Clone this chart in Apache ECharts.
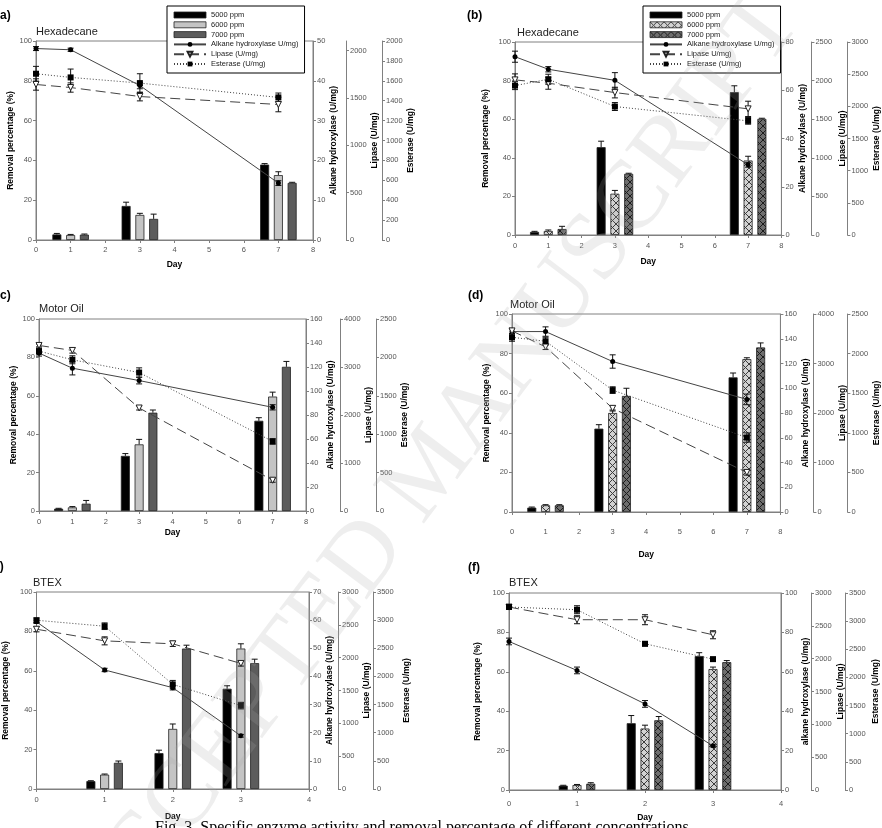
<!DOCTYPE html>
<html lang="en">
<head>
<meta charset="utf-8">
<title>Enzyme activity and removal percentage</title>
<script src="https://cdn.jsdelivr.net/npm/echarts@6/dist/echarts.min.js"></script>
<style>
    html, body { margin: 0; padding: 0; background: #fff; }
    #main { width: 882px; height: 828px; }
</style>
</head>
<body>
<div id="main"></div>
<script>
// sampling days
const daysAD = [0, 1, 3, 7];
const daysEF = [0, 1, 2, 3];
const barDaysAD = [1, 3, 7];
const barDaysEF = [1, 2, 3];
const concNames = ['5000 ppm', '6000 ppm', '7000 ppm'];

// (a) Hexadecane
const aBar = [[2.8, 17.1, 37.9], [2.5, 12.6, 32.6], [2.7, 10.6, 28.7]];
const aBarErr = [[0.5, 1.9, 0.5], [0.3, 0.8, 1.7], [0.3, 2.4, 0.3]];
const aAlk = [48.1, 47.8, 38.8, 14.3], aAlkErr = [0.5, 0.4, 0.8, 0.6];
const aLip = [1641, 1609, 1514, 1430], aLipErr = [60, 49, 46, 77];
const aEst = [1671, 1634, 1577, 1433], aEstErr = [74, 84, 94, 44];

// (b) Hexadecane
const bBar = [[1.6, 45.5, 74.0], [2.1, 21.4, 38.6], [3.1, 31.7, 60.2]];
const bBarErr = [[0.3, 3.1, 3.3], [0.5, 1.7, 2.2], [1.4, 0.3, 0.3]];
const bAlk = [73.9, 68.7, 64.1, 29.1], bAlkErr = [2.3, 1.1, 3.2, 1.0];
const bLip = [2009, 1966, 1845, 1634], bLipErr = [78, 78, 69, 99];
const bEst = [2322, 2421, 1997, 1774], bEstErr = [62, 78, 62, 52];

// (c) Motor Oil
const cBar = [[1.2, 28.7, 47.0], [1.9, 34.7, 59.6], [3.8, 51.2, 75.1]];
const cBarErr = [[0.2, 1.2, 1.6], [0.4, 2.6, 2.3], [1.7, 1.4, 2.8]];
const cAlk = [131.6, 119.0, 108.7, 86.4], cAlkErr = [2.5, 5.6, 2.8, 2.2];
const cLip = [3449, 3345, 2146, 641], cLipErr = [30, 56, 42, 42];
const cEst = [2082, 1969, 1803, 906], cEstErr = [40, 52, 61, 35];

// (d) Motor Oil
const dBar = [[2.2, 42.1, 68.0], [3.4, 50.0, 77.2], [3.4, 58.6, 83.1]];
const dBarErr = [[0.3, 2.0, 2.2], [0.3, 1.5, 0.7], [0.3, 3.9, 2.3]];
const dAlk = [145.8, 145.8, 121.6, 91.0], dAlkErr = [2.0, 3.8, 5.4, 4.3];
const dLip = [3658, 3336, 2094, 799], dLipErr = [54, 54, 54, 54];
const dEst = [2206, 2156, 1539, 940], dEstErr = [50, 50, 42, 59];

// (e) BTEX
const eBar = [[4.0, 18.2, 50.9], [7.3, 30.5, 71.3], [13.3, 71.3, 63.9]];
const eBarErr = [[0.2, 1.5, 1.5], [0.3, 2.5, 2.4], [0.9, 1.7, 2.0]];
const eAlk = [59.4, 42.3, 36.0, 18.9], eAlkErr = [0.6, 0.6, 0.8, 0.5];
const eLip = [2433, 2256, 2211, 1912], eLipErr = [40, 61, 40, 40];
const eEst = [2998, 2892, 1859, 1481], eEstErr = [40, 59, 70, 59];

// (f) BTEX
const fBar = [[2.2, 33.9, 68.0], [2.5, 31.2, 61.4], [3.2, 35.4, 64.9]];
const fBarErr = [[0.2, 3.9, 1.7], [0.3, 1.7, 1.0], [0.5, 1.9, 0.8]];
const fAlk = [75.4, 60.7, 43.7, 22.4], fAlkErr = [1.7, 1.7, 1.7, 0.5];
const fLip = [2786, 2593, 2593, 2364], fLipErr = [30, 61, 76, 61];
const fEst = [3251, 3203, 2598, 2325], fEstErr = [30, 71, 40, 30];

const FONT = '"Liberation Sans", Arial, sans-serif';
const AXC = '#808080';
const BAR_W = 9, BAR_GAP = 0.53, BAR_STEP = BAR_W * (1 + BAR_GAP), CAP = 3;

function hatch(bg, fg) {
    const c = document.createElement('canvas');
    c.width = 7; c.height = 7;
    const g = c.getContext('2d');
    g.fillStyle = bg; g.fillRect(0, 0, 7, 7);
    g.strokeStyle = fg; g.lineWidth = 1;
    g.beginPath();
    g.moveTo(0, 0); g.lineTo(7, 7);
    g.moveTo(7, 0); g.lineTo(0, 7);
    g.stroke();
    return { image: c, repeat: 'repeat' };
}
const plainFills = ['#000', '#c4c4c4', '#5c5c5c'];
const hatchFills = ['#000', hatch('#d2d2d2', '#3c3c3c'), hatch('#6e6e6e', '#1c1c1c')];

const panels = [
    { title: 'Hexadecane', tag: '(a)', tagX: -4, tagY: 16, titleXY: [36, 26],
      days: daysAD, barDays: barDaysAD, bar: aBar, barErr: aBarErr,
      alk: aAlk, alkErr: aAlkErr, lip: aLip, lipErr: aLipErr, est: aEst, estErr: aEstErr,
      grid: [36, 41, 277, 199], xMax: 8, alkAx: [50, 10], lipAx: [2100, 500], lipLabels: [0, 500, 1000, 1500, 2000],
      estAx: [2000, 200], off: [33, 69], gaps: [18.5, 15.5, 22.5, 24.5], xm: 6, dg: 20.5,
      alkName: 'Alkane hydroxylase (U/mg)', fills: plainFills,
      names: ['Alkane hydroxylase U/mg)', 'Lipase (U/mg)', 'Esterase (U/mg)'] },
    { title: 'Hexadecane', tag: '(b)', tagX: 467, tagY: 16, titleXY: [517, 27],
      days: daysAD, barDays: barDaysAD, bar: bBar, barErr: bBarErr,
      alk: bAlk, alkErr: bAlkErr, lip: bLip, lipErr: bLipErr, est: bEst, estErr: bEstErr,
      grid: [515, 42, 267, 193], xMax: 8, alkAx: [80, 20], lipAx: [2500, 500],
      estAx: [3000, 500], off: [30, 66], gaps: [24.5, 16, 26.5, 23.5], xm: 7, dg: 22,
      alkName: 'Alkane hydroxylase (U/mg)', fills: hatchFills,
      names: ['Alkane hydroxylase U/mg)', 'Lipase U/mg)', 'Esterase (U/mg)'] },
    { title: 'Motor Oil', tag: '(c)', tagX: -4, tagY: 296, titleXY: [39, 303],
      days: daysAD, barDays: barDaysAD, bar: cBar, barErr: cBarErr,
      alk: cAlk, alkErr: cAlkErr, lip: cLip, lipErr: cLipErr, est: cEst, estErr: cEstErr,
      grid: [39, 319, 267, 192], xMax: 8, alkAx: [160, 20], lipAx: [4000, 1000],
      estAx: [2500, 500], off: [34, 70], gaps: [19.5, 19.5, 22, 22.5], xm: 7, dg: 17,
      alkName: 'Alkane hydroxylase (U/mg)', fills: plainFills,
      names: ['Alkane hydroxylase U/mg)', 'Lipase (U/mg)', 'Esterase (U/mg)'] },
    { title: 'Motor Oil', tag: '(d)', tagX: 468, tagY: 296, titleXY: [510, 299],
      days: daysAD, barDays: barDaysAD, bar: dBar, barErr: dBarErr,
      alk: dAlk, alkErr: dAlkErr, lip: dLip, lipErr: dLipErr, est: dEst, estErr: dEstErr,
      grid: [512, 314, 277, 198], xMax: 8, alkAx: [160, 20], lipAx: [4000, 1000],
      estAx: [2500, 500], off: [33, 67], gaps: [18.5, 20.5, 24.5, 24], xm: 16, dg: 38,
      alkName: 'Alkane hydroxylase (U/mg)', fills: hatchFills,
      names: ['Alkane hydroxylase U/mg)', 'Lipase (U/mg)', 'Esterase (U/mg)'] },
    { title: 'BTEX', tag: '(e)', tagX: -11, tagY: 567, titleXY: [33, 577],
      days: daysEF, barDays: barDaysEF, bar: eBar, barErr: eBarErr,
      alk: eAlk, alkErr: eAlkErr, lip: eLip, lipErr: eLipErr, est: eEst, estErr: eEstErr,
      grid: [33, 592, 276, 197], xMax: 4, alkAx: [70, 10], lipAx: [3000, 500],
      estAx: [3500, 500], off: [29, 64], gaps: [26.5, 14.5, 24, 29], xm: 7, dg: 23.5,
      alkName: 'Alkane hydroxylase (U/mg)', fills: plainFills,
      names: ['Alkane hydroxylase U/mg)', 'Lipase (U/mg)', 'Esterase (U/mg)'] },
    { title: 'BTEX', tag: '(f)', tagX: 468, tagY: 568, titleXY: [509, 577],
      days: daysEF, barDays: barDaysEF, bar: fBar, barErr: fBarErr,
      alk: fAlk, alkErr: fAlkErr, lip: fLip, lipErr: fLipErr, est: fEst, estErr: fEstErr,
      grid: [509, 593, 272, 197], xMax: 4, alkAx: [100, 20], lipAx: [3000, 500],
      estAx: [3500, 500], off: [30, 64], gaps: [27, 16, 25.5, 26.5], xm: 10, dg: 23,
      alkName: 'alkane hydroxylase (U/mg)', fills: hatchFills,
      names: ['Alkane hydroxylase U/mg)', 'Lipase (U/mg)', 'Esterase (U/mg)'] }
];

function errBars(offset, both) {
    return function (params, api) {
        const x = api.value(0), y = api.value(1), e = api.value(2);
        const t = api.coord([x, y + e]);
        const b = api.coord([x, both ? y - e : y]);
        const cx = t[0] + offset;
        const segs = [[cx, t[1], cx, b[1]], [cx - CAP, t[1], cx + CAP, t[1]]];
        if (both) segs.push([cx - CAP, b[1], cx + CAP, b[1]]);
        return {
            type: 'group',
            children: segs.map(s => ({
                type: 'line',
                shape: { x1: s[0], y1: s[1], x2: s[2], y2: s[3] },
                style: { stroke: '#111', lineWidth: 1 }
            }))
        };
    };
}

const plainNum = v => String(v);

function yAx(gi, pos, offset, max, interval, name, gap, labels) {
    const ax = {
        type: 'value', gridIndex: gi, position: pos, offset: offset,
        min: 0, max: max, interval: interval,
        name: name, nameLocation: 'middle', nameGap: gap, nameRotate: 90,
        nameTextStyle: { fontSize: 8.5, fontWeight: 'bold', color: '#000', fontFamily: FONT },
        axisLine: { show: true, lineStyle: { color: AXC } },
        axisTick: { show: true, length: 3, lineStyle: { color: AXC } },
        axisLabel: { fontSize: 7.5, color: '#555', margin: 4, fontFamily: FONT, formatter: plainNum },
        splitLine: { show: false }
    };
    if (labels) {
        ax.axisLabel.customValues = labels;
        ax.axisTick.customValues = labels;
    }
    return ax;
}

const grid = [], xAxis = [], yAxis = [], series = [], title = [], graphic = [];

panels.forEach((P, p) => {
    grid.push({
        left: P.grid[0], top: P.grid[1], width: P.grid[2], height: P.grid[3],
        show: true, borderColor: AXC, borderWidth: 1, backgroundColor: 'transparent'
    });
    xAxis.push({
        type: 'value', gridIndex: p, min: 0, max: P.xMax, interval: 1,
        name: 'Day', nameLocation: 'middle', nameGap: P.dg,
        nameTextStyle: { fontSize: 8.5, fontWeight: 'bold', color: '#000', fontFamily: FONT },
        axisLine: { lineStyle: { color: AXC } },
        axisTick: { length: 3, lineStyle: { color: AXC } },
        axisLabel: { fontSize: 7.5, color: '#555', margin: P.xm, fontFamily: FONT },
        splitLine: { show: false }
    });
    const y0 = yAxis.length;
    yAxis.push(yAx(p, 'left', 0, 100, 20, 'Removal percentage (%)', P.gaps[0]));
    yAxis.push(yAx(p, 'right', 0, P.alkAx[0], P.alkAx[1], P.alkName, P.gaps[1]));
    yAxis.push(yAx(p, 'right', P.off[0], P.lipAx[0], P.lipAx[1], 'Lipase (U/mg)', P.gaps[2], P.lipLabels));
    yAxis.push(yAx(p, 'right', P.off[1], P.estAx[0], P.estAx[1], 'Esterase (U/mg)', P.gaps[3]));

    // bars + their error bars
    concNames.forEach((nm, i) => {
        series.push({
            type: 'bar', name: nm, xAxisIndex: p, yAxisIndex: y0,
            data: P.barDays.map((d, j) => [d, P.bar[i][j]]),
            barWidth: BAR_W, barGap: Math.round(BAR_GAP * 100) + '%',
            itemStyle: { color: P.fills[i], borderColor: '#222', borderWidth: 0.8 },
            z: 1
        });
        series.push({
            type: 'custom', xAxisIndex: p, yAxisIndex: y0, silent: true,
            data: P.barDays.map((d, j) => [d, P.bar[i][j], P.barErr[i][j]]),
            renderItem: errBars((i - 1) * BAR_STEP, false), z: 2
        });
    });

    // enzyme activity lines
    const lines = [
        { v: P.alk, e: P.alkErr, ax: y0 + 1, sym: 'circle', size: 5, rot: 0, fill: '#000', dash: 'solid' },
        { v: P.lip, e: P.lipErr, ax: y0 + 2, sym: 'triangle', size: 6, rot: 180, fill: '#fff', dash: [10, 5] },
        { v: P.est, e: P.estErr, ax: y0 + 3, sym: 'rect', size: 6, rot: 0, fill: '#000', dash: [1, 2] }
    ];
    lines.forEach((L, k) => {
        series.push({
            type: 'custom', xAxisIndex: p, yAxisIndex: L.ax, silent: true,
            data: P.days.map((d, j) => [d, L.v[j], L.e[j]]),
            renderItem: errBars(0, true), z: 3
        });
        series.push({
            type: 'line', name: P.names[k], xAxisIndex: p, yAxisIndex: L.ax,
            data: P.days.map((d, j) => [d, L.v[j]]),
            symbol: L.sym, symbolSize: L.size, symbolRotate: L.rot, showAllSymbol: true,
            itemStyle: { color: L.fill, borderColor: '#222', borderWidth: L.fill === '#fff' ? 1 : 0 },
            lineStyle: { color: '#444', width: 1, type: L.dash },
            z: 4
        });
    });

    title.push({
        text: P.title, left: P.titleXY[0], top: P.titleXY[1], padding: 0,
        textStyle: { fontSize: 11, fontWeight: 'normal', color: '#222', fontFamily: FONT }
    });
    graphic.push({
        type: 'text', x: P.tagX, y: P.tagY,
        style: { text: P.tag, font: 'bold 12px ' + FONT, fill: '#000', textVerticalAlign: 'middle' }
    });
});

function legendFor(P, left) {
    return {
        left: left, top: 6, orient: 'vertical', selectedMode: false,
        padding: [5, 6, 5, 6], itemGap: 1.8, itemWidth: 32, itemHeight: 6,
        borderColor: '#000', borderWidth: 1, backgroundColor: '#fff',
        textStyle: { fontSize: 7.5, color: '#222', fontFamily: FONT },
        data: concNames.map((nm, i) => ({
            name: nm, icon: 'rect',
            itemStyle: { color: P.fills[i], borderColor: '#222', borderWidth: 0.8 }
        })).concat(P.names.map(nm => ({ name: nm })))
    };
}

// watermark and caption
graphic.push({
    type: 'text', x: 432, y: 470, rotation: 53 * Math.PI / 180, z: 100, silent: true,
    style: {
        text: 'ACCEPTED MANUSCRIPT', font: '98px "Liberation Serif", "Times New Roman", serif',
        fill: 'rgba(170,170,170,0.2)', textAlign: 'center', textVerticalAlign: 'middle'
    }
});
graphic.push({
    type: 'text', x: 155, y: 820,
    style: {
        text: 'Fig. 3. Specific enzyme activity and removal percentage of different concentrations',
        font: '16px "Liberation Serif", "Times New Roman", serif', fill: '#000',
        textVerticalAlign: 'top'
    }
});

const myChart = echarts.init(document.getElementById('main'));
myChart.setOption({
    animation: false,
    backgroundColor: '#fff',
    title: title,
    legend: [legendFor(panels[0], 167), legendFor(panels[1], 643)],
    grid: grid,
    xAxis: xAxis,
    yAxis: yAxis,
    series: series,
    graphic: graphic
});
</script>
</body>
</html>
